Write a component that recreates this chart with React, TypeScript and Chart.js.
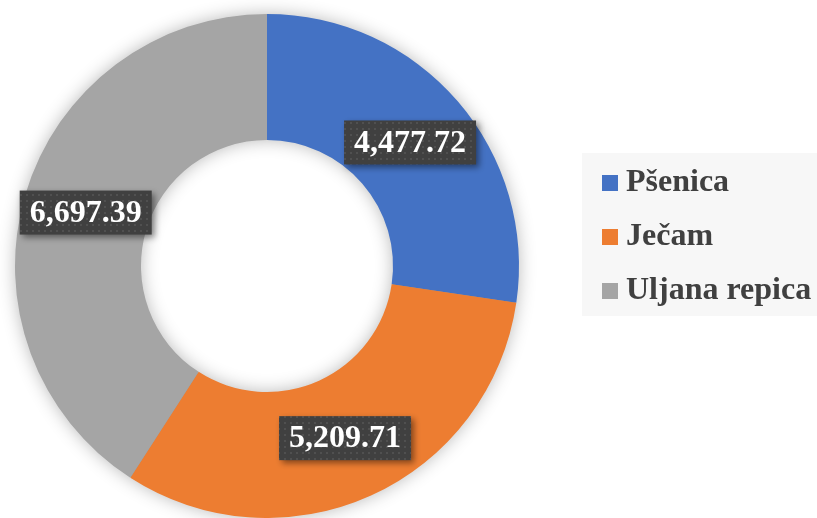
import React, { useEffect, useRef } from 'react';
import { Chart, registerables } from 'chart.js';

Chart.register(...registerables);

const categories = ['Pšenica', 'Ječam', 'Uljana repica'];
const values = [4477.72, 5209.71, 6697.39];
const colors = ['#4472C4', '#ED7D31', '#A5A5A5'];

function fmt(v: number) {
  return v.toLocaleString('en-US', { minimumFractionDigits: 2, maximumFractionDigits: 2 });
}

export default function App() {
  const ref = useRef<HTMLCanvasElement | null>(null);

  useEffect(() => {
    const canvas = ref.current!;
    const ctx0 = canvas.getContext('2d')!;

    const tile = document.createElement('canvas');
    tile.width = 6;
    tile.height = 6;
    const tg = tile.getContext('2d')!;
    tg.fillStyle = '#404040';
    tg.fillRect(0, 0, 6, 6);
    tg.fillStyle = '#505050';
    tg.fillRect(2, 2, 2, 2);
    const pattern = ctx0.createPattern(tile, 'repeat');

    const squares = colors.map((c) => {
      const s = document.createElement('canvas');
      s.width = 16;
      s.height = 16;
      const g = s.getContext('2d')!;
      g.fillStyle = c;
      g.fillRect(0, 0, 16, 16);
      return s;
    });

    const ringShadow = {
      id: 'ringShadow',
      beforeDraw(chart: any) {
        const ctx = chart.ctx;
        ctx.save();
        ctx.fillStyle = '#f7f7f7';
        ctx.fillRect(582, 153, 235, 163);
        ctx.restore();
      },
      beforeDatasetsDraw(chart: any) {
        const arc = chart.getDatasetMeta(0).data[0];
        if (!arc) return;
        const { x, y, innerRadius, outerRadius } = arc.getProps(['x', 'y', 'innerRadius', 'outerRadius'], true);
        const ctx = chart.ctx;
        ctx.save();
        ctx.shadowColor = 'rgba(0,0,0,0.3)';
        ctx.shadowBlur = 18;
        ctx.beginPath();
        ctx.arc(x, y, outerRadius - 1, 0, Math.PI * 2);
        ctx.arc(x, y, innerRadius + 1, 0, Math.PI * 2, true);
        ctx.fillStyle = '#999';
        ctx.fill();
        ctx.restore();
      },
    };

    const legendPlace = {
      id: 'legendPlace',
      afterLayout(chart: any) {
        const lg = chart.legend;
        if (!lg) return;
        const w = lg.width, h = lg.height;
        lg.left = 587;
        lg.top = 145;
        lg.right = lg.left + w;
        lg.bottom = lg.top + h;
      },
    };

    const boxLabels = {
      id: 'boxLabels',
      afterDatasetsDraw(chart: any) {
        const ctx = chart.ctx;
        const meta = chart.getDatasetMeta(0);
        ctx.save();
        ctx.font = 'bold 32px "Liberation Serif"';
        meta.data.forEach((arc: any, i: number) => {
          const { x, y } = arc.getCenterPoint();
          const text = fmt(values[i]);
          const tw = ctx.measureText(text).width;
          const w = tw + 20;
          const h = 44;
          ctx.save();
          ctx.shadowColor = 'rgba(0,0,0,0.45)';
          ctx.shadowBlur = 6;
          ctx.shadowOffsetX = 3;
          ctx.shadowOffsetY = 3;
          ctx.fillStyle = pattern;
          ctx.fillRect(x - w / 2, y - h / 2, w, h);
          ctx.restore();
          ctx.fillStyle = '#ffffff';
          ctx.textAlign = 'center';
          ctx.textBaseline = 'middle';
          ctx.fillText(text, x, y + 1);
        });
        ctx.restore();
      },
    };

    const chart = new Chart(canvas, {
      type: 'doughnut',
      data: {
        labels: categories,
        datasets: [
          {
            data: values,
            backgroundColor: colors,
            borderWidth: 0,
            hoverOffset: 0,
          },
        ],
      },
      options: {
        responsive: false,
        animation: false,
        devicePixelRatio: 1,
        cutout: '50%',
        layout: { padding: { left: 13, right: 296, top: 14, bottom: -4 } },
        plugins: {
          tooltip: { enabled: false },
          legend: {
            display: true,
            position: 'chartArea',
            align: 'start',
            labels: {
              usePointStyle: true,
              boxWidth: 1,
              boxHeight: 16,
              padding: 22,
              color: '#404040',
              font: { family: 'Liberation Serif', size: 32, weight: 'bold' },
              generateLabels(ch: any) {
                const items = (Chart as any).overrides.doughnut.plugins.legend.labels.generateLabels(ch);
                items.forEach((it: any, i: number) => {
                  it.pointStyle = squares[i];
                  it.lineWidth = 0;
                });
                return items;
              },
            },
          },
        },
      } as any,
      plugins: [ringShadow, legendPlace, boxLabels],
    });

    return () => chart.destroy();
  }, []);

  return (
    <div style={{ position: 'fixed', left: 0, top: 0, width: 817, height: 518, overflow: 'hidden', background: '#ffffff' }}>
      <canvas ref={ref} width={817} height={518} style={{ display: 'block', width: 817, height: 518 }} />
    </div>
  );
}
